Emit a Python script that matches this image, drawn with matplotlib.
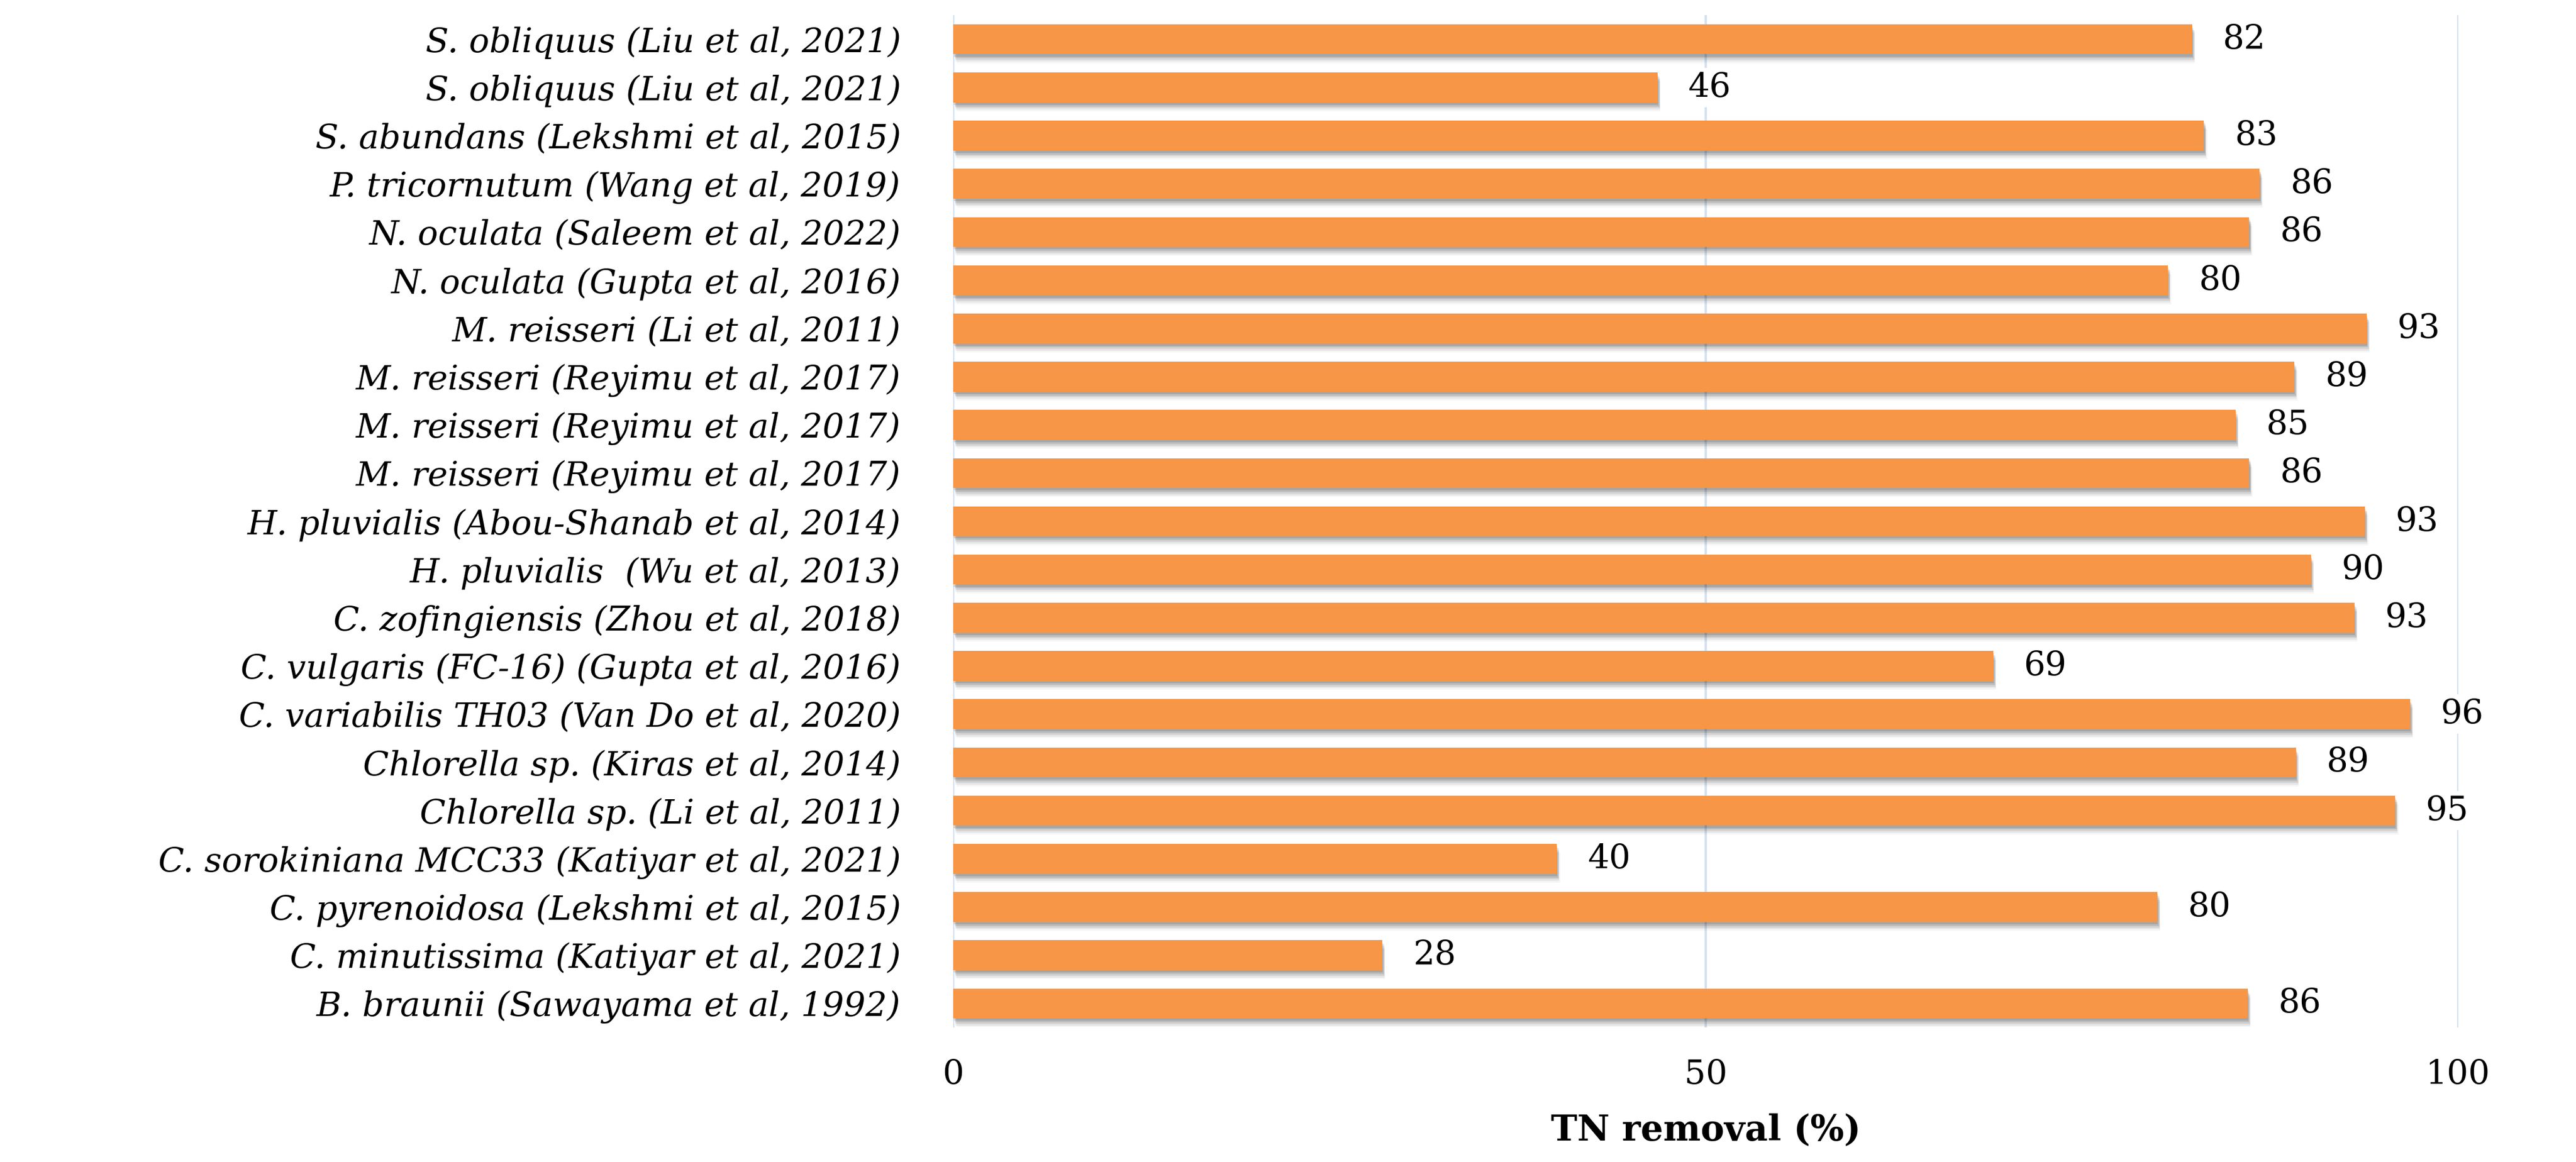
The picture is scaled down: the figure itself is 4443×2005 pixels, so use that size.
import matplotlib
matplotlib.use("Agg")
import matplotlib.pyplot as plt
import matplotlib.patheffects as pe

categories = [
    "S. obliquus (Liu et al, 2021)",
    "S. obliquus (Liu et al, 2021)",
    "S. abundans (Lekshmi et al, 2015)",
    "P. tricornutum (Wang et al, 2019)",
    "N. oculata (Saleem et al, 2022)",
    "N. oculata (Gupta et al, 2016)",
    "M. reisseri (Li et al, 2011)",
    "M. reisseri (Reyimu et al, 2017)",
    "M. reisseri (Reyimu et al, 2017)",
    "M. reisseri (Reyimu et al, 2017)",
    "H. pluvialis (Abou-Shanab et al, 2014)",
    "H. pluvialis  (Wu et al, 2013)",
    "C. zofingiensis (Zhou et al, 2018)",
    "C. vulgaris (FC-16) (Gupta et al, 2016)",
    "C. variabilis TH03 (Van Do et al, 2020)",
    "Chlorella sp. (Kiras et al, 2014)",
    "Chlorella sp. (Li et al, 2011)",
    "C. sorokiniana MCC33 (Katiyar et al, 2021)",
    "C. pyrenoidosa (Lekshmi et al, 2015)",
    "C. minutissima (Katiyar et al, 2021)",
    "B. braunii (Sawayama et al, 1992)",
]
values = [82.3, 46.8, 83.1, 86.8, 86.1, 80.7, 93.9, 89.1, 85.2, 86.1, 93.8,
          90.2, 93.1, 69.1, 96.8, 89.2, 95.8, 40.1, 80.0, 28.5, 86.0]
value_labels = ["82", "46", "83", "86", "86", "80", "93", "89", "85", "86", "93",
                "90", "93", "69", "96", "89", "95", "40", "80", "28", "86"]
x_ticks = [0, 50, 100]
x_label = "TN removal (%)"

W, H, DPI = 4443, 2005, 100
fig = plt.figure(figsize=(W / DPI, H / DPI), dpi=DPI)
ax = fig.add_axes([1644 / W, 1 - 1773 / H, (4240 - 1644) / W, (1773 - 26) / H])

serif = "DejaVu Serif"
orange = "#F79646"
grid_c = "#D4E1F1"

ypos = list(range(len(categories)))[::-1]
shadow = [
    pe.SimplePatchShadow(offset=(4, -11), shadow_rgbFace="#000000", alpha=0.04),
    pe.SimplePatchShadow(offset=(3, -9), shadow_rgbFace="#000000", alpha=0.06),
    pe.SimplePatchShadow(offset=(3, -7), shadow_rgbFace="#000000", alpha=0.08),
    pe.SimplePatchShadow(offset=(2, -5), shadow_rgbFace="#000000", alpha=0.10),
    pe.SimplePatchShadow(offset=(1, -3), shadow_rgbFace="#000000", alpha=0.12),
    pe.Normal(),
]
bars = ax.barh(ypos, values, height=0.62, color=orange, zorder=3)
for b in bars:
    b.set_path_effects(shadow)

for y, v, lab in zip(ypos, values, value_labels):
    ax.annotate(lab, xy=(v, y), xytext=(38, 0), textcoords="offset points",
                ha="left", va="center", fontsize=42, family=serif,
                color="black", zorder=5,
                bbox=dict(boxstyle="square,pad=0.1", fc="white", ec="none"))

ax.set_xlim(0, 100)
ax.set_ylim(-0.5, len(categories) - 0.5)
ax.set_xticks(x_ticks)
ax.set_xticklabels([str(t) for t in x_ticks], fontsize=42, family=serif)
ax.set_yticks(ypos)
ax.set_yticklabels(categories, fontsize=42, family=serif, style="italic")
ax.tick_params(axis="y", length=0, pad=65)
ax.tick_params(axis="x", length=0, pad=38)
for s in ax.spines.values():
    s.set_visible(False)
ax.xaxis.grid(True, color=grid_c, linewidth=3, zorder=0)
ax.set_axisbelow(True)
ax.set_xlabel(x_label, fontsize=44, family=serif, fontweight="bold", labelpad=28)

fig.savefig("out.png", dpi=DPI, facecolor="white")
